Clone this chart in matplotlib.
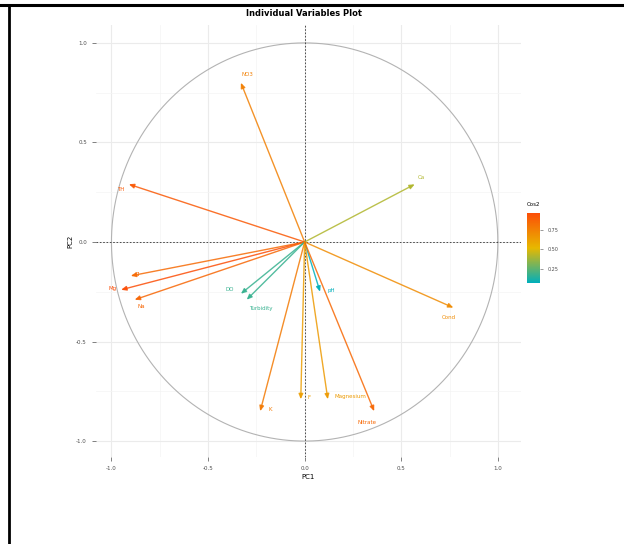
import numpy as np
import matplotlib.pyplot as plt
from matplotlib.colors import LinearSegmentedColormap, Normalize
from matplotlib.lines import Line2D

# PCA variable coordinates
variables = ["NO3", "TH", "Ca", "Cond", "Cl", "Mg", "Na", "DO", "Turbidity",
             "pH", "K", "F", "Magnesium", "Nitrate"]
pc1 = [-0.33, -0.91, 0.57, 0.77, -0.90, -0.95, -0.88, -0.33, -0.30,
       0.08, -0.23, -0.02, 0.12, 0.36]
pc2 = [0.80, 0.29, 0.29, -0.33, -0.17, -0.24, -0.29, -0.26, -0.29,
       -0.25, -0.85, -0.79, -0.79, -0.85]
# label offsets (in points) so the names sit like in the original
label_dx = [5, -6, 5, -3, 5, -6, 5, -8, 10, 8, 7, 6, 16, -5]
label_dy = [6, -4, 5, -7, 1, 1, -5, 3, -6, 1, 1, 1, 2, -8]

cos2 = np.array(pc1) ** 2 + np.array(pc2) ** 2

x_ticks = [-1.0, -0.5, 0.0, 0.5, 1.0]
x_ticklabels = ["-1.0", "-0.5", "0.0", "0.5", "1.0"]
y_ticks = [-1.0, -0.5, 0.0, 0.5, 1.0]
y_ticklabels = ["-1.0", "-0.5", "0.0", "0.5", "1.0"]
cbar_ticks = [0.25, 0.50, 0.75]

cmap = LinearSegmentedColormap.from_list("cos2", ["#00AFBB", "#E7B800", "#FC4E07"])
norm = Normalize(vmin=cos2.min(), vmax=cos2.max())

fig = plt.figure(figsize=(6.24, 5.44), dpi=100)
W, H = 624, 544

ax = fig.add_axes([96 / W, 1 - 457 / H, 425 / W, 432 / H])
ax.set_xlim(-1.08, 1.12)
ax.set_ylim(-1.08, 1.09)

for s in ax.spines.values():
    s.set_visible(False)

ax.set_xticks(x_ticks)
ax.set_xticklabels(x_ticklabels)
ax.set_yticks(y_ticks)
ax.set_yticklabels(y_ticklabels)
ax.set_xticks([-0.75, -0.25, 0.25, 0.75], minor=True)
ax.set_yticks([-0.75, -0.25, 0.25, 0.75], minor=True)
ax.grid(True, which="major", color="#EBEBEB", linewidth=0.8)
ax.grid(True, which="minor", color="#F4F4F4", linewidth=0.5)
ax.tick_params(which="major", labelsize=4, colors="#4D4D4D", length=3, width=0.5)
ax.tick_params(which="minor", length=0)
ax.set_axisbelow(True)

# correlation circle
t = np.linspace(0, 2 * np.pi, 400)
ax.plot(np.cos(t), np.sin(t), color="#B3B3B3", linewidth=0.8)

ax.axhline(0, color="#333333", linestyle=(0, (2, 2)), linewidth=0.6)
ax.axvline(0, color="#333333", linestyle=(0, (2, 2)), linewidth=0.6)

for name, x, y, c, dx, dy in zip(variables, pc1, pc2, cos2, label_dx, label_dy):
    col = cmap(norm(c))
    ax.annotate("", xy=(x, y), xytext=(0, 0),
                arrowprops=dict(arrowstyle="-|>,head_length=0.3,head_width=0.13",
                                color=col, alpha=0.85, linewidth=1.0,
                                shrinkA=0, shrinkB=0))
    ax.annotate(name, xy=(x, y), xytext=(dx, dy), textcoords="offset points",
                ha="center", va="center", fontsize=4, color=col)

ax.set_xlabel("PC1", fontsize=5, labelpad=2)
ax.set_ylabel("PC2", fontsize=5, labelpad=2)
fig.text(304 / W, 1 - 14 / H, "Individual Variables Plot", ha="center", va="center",
         fontsize=6, fontweight="bold")

# colour bar
cax = fig.add_axes([527 / W, 1 - 283 / H, 13 / W, 70 / H])
cb = fig.colorbar(plt.cm.ScalarMappable(norm=norm, cmap=cmap), cax=cax, ticks=cbar_ticks)
cb.outline.set_visible(False)
cb.ax.set_yticklabels(["0.25", "0.50", "0.75"])
cb.ax.tick_params(labelsize=3.5, colors="#4D4D4D", length=2, width=0.4)
fig.text(527 / W, 1 - 204 / H, "Cos2", ha="left", va="center", fontsize=4)

# frame lines of the surrounding cell
fig.add_artist(Line2D([0, 1], [1 - 5 / H, 1 - 5 / H], color="black", linewidth=2.2,
                      transform=fig.transFigure))
fig.add_artist(Line2D([8.5 / W, 8.5 / W], [0, 1 - 5 / H], color="black", linewidth=2.0,
                      transform=fig.transFigure))

fig.savefig("out.png", dpi=100, facecolor="white")
